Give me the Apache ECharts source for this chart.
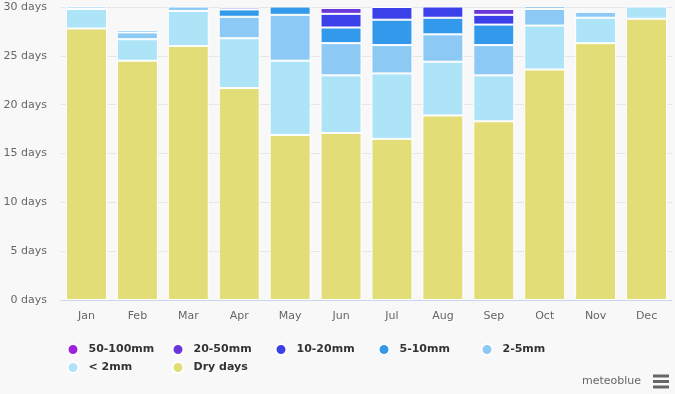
<!DOCTYPE html>
<html><head><meta charset="utf-8">
<script src="https://cdn.jsdelivr.net/npm/echarts@6/dist/echarts.min.js"></script>
<style>html,body{margin:0;padding:0;background:#f8f8f9}#c{width:675px;height:394px}</style>
</head><body><div id="c"></div>
<script>
const months = ['Jan','Feb','Mar','Apr','May','Jun','Jul','Aug','Sep','Oct','Nov','Dec'];
const dryDays  = [27.8, 24.5, 26.0, 21.7, 16.9, 17.1, 16.5, 18.9, 18.3, 23.6, 26.3, 28.8];
const lt2mm    = [2.0, 2.2, 3.6, 5.1, 7.6, 5.9, 6.7, 5.5, 4.7, 4.5, 2.6, 2.0];
const mm2to5   = [1.0, 0.7, 1.2, 2.2, 4.7, 3.3, 2.9, 2.8, 3.1, 1.7, 0.6, 0.2];
const mm5to10  = [0.2, 0.25, 0.2, 0.75, 1.5, 1.6, 2.6, 1.7, 2.1, 0.9, 0.2, 0];
const mm10to20 = [0, 0, 0, 0.2, 0.3, 1.4, 1.3, 1.8, 1.0, 0.3, 0, 0];
const mm20to50 = [0, 0, 0, 0, 0, 0.6, 0.7, 0.3, 0.6, 0, 0, 0];
const mm50to100= [0, 0, 0, 0, 0, 0, 0.2, 0, 0, 0, 0, 0];
const yTicks = [0, 5, 10, 15, 20, 25, 30];

const seriesDefs = [
  {name:'Dry days', data:dryDays, color:'#e2dd76'},
  {name:'< 2mm', data:lt2mm, color:'#ade4f7'},
  {name:'2-5mm', data:mm2to5, color:'#8dc9f5'},
  {name:'5-10mm', data:mm5to10, color:'#3399ea'},
  {name:'10-20mm', data:mm10to20, color:'#3b40e8'},
  {name:'20-50mm', data:mm20to50, color:'#6a36d9'},
  {name:'50-100mm', data:mm50to100, color:'#9c22db'}
];
const FONT = 'DejaVu Sans';
const legendPos = [
  ['50-100mm', 77, 349], ['20-50mm', 182, 349], ['10-20mm', 285, 349], ['5-10mm', 388, 349], ['2-5mm', 491, 349],
  ['< 2mm', 77, 367], ['Dry days', 182, 367]
];
const chart = echarts.init(document.getElementById('c'));
chart.setOption({
  backgroundColor: '#f8f8f9',
  animation: false,
  grid: {left: 61, right: 3, top: 7, bottom: 94},
  legend: legendPos.map(([n, cx, cy]) => ({
    data: [n], left: cx - 10.5, top: cy - 6, itemWidth: 21, itemHeight: 11, icon: 'circle',
    padding: 0, selectedMode: false,
    textStyle: {fontFamily: FONT, fontSize: 11, fontWeight: 'bold', color: '#333'}
  })),
  xAxis: {
    type: 'category', data: months,
    axisLine: {lineStyle: {color: '#ccd6eb'}},
    axisTick: {show: false},
    axisLabel: {fontFamily: FONT, fontSize: 11, color: '#666', margin: 11}
  },
  yAxis: {
    type: 'value', min: yTicks[0], max: yTicks[yTicks.length - 1], interval: 5,
    axisLabel: {fontFamily: FONT, fontSize: 11, color: '#666', margin: 14, formatter: v => v + ' days'},
    splitLine: {lineStyle: {color: '#e6e6e6'}},
    axisLine: {show: false}, axisTick: {show: false}
  },
  series: seriesDefs.map(s => ({
    name: s.name, type: 'bar', stack: 'days', barWidth: 41,
    data: s.data.map(v => v === 0 ? '-' : v),
    itemStyle: {color: s.color, borderColor: '#ffffff', borderWidth: 1},
    emphasis: {disabled: true}
  })),
  graphic: [
    {type: 'text', right: 34, top: 376, style: {text: 'meteoblue', font: '11px "DejaVu Sans"', fill: '#666'}},
    {type: 'rect', shape: {x: 653, y: 374.5, width: 16, height: 3}, style: {fill: '#666'}},
    {type: 'rect', shape: {x: 653, y: 380, width: 16, height: 3}, style: {fill: '#666'}},
    {type: 'rect', shape: {x: 653, y: 385.5, width: 16, height: 3}, style: {fill: '#666'}}
  ]
});
</script></body></html>
